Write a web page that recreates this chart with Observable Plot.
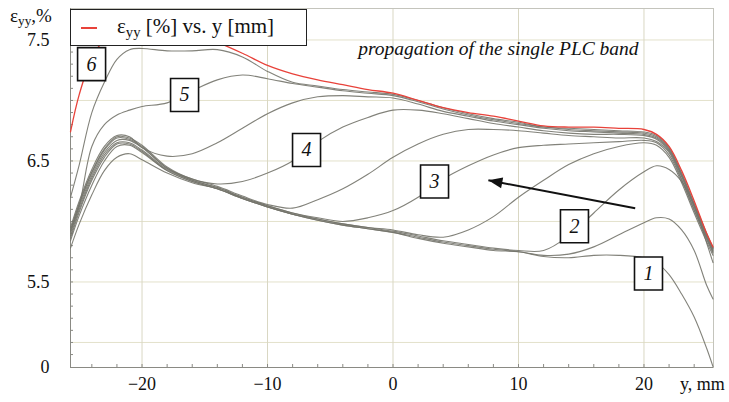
<!DOCTYPE html>
<html>
<head>
<meta charset="utf-8">
<script src="https://cdn.jsdelivr.net/npm/d3@7"></script>
<script src="https://cdn.jsdelivr.net/npm/@observablehq/plot@0.6"></script>
<style>
  body { margin: 0; background: #fff; }
  #chart { position: relative; width: 729px; height: 402px; font-family: "Liberation Serif", serif; color: #111; }
  #chart svg { position: absolute; left: 0; top: 0; }
  .ylabel { position: absolute; left: 10px; top: 5px; font-size: 19px; }
  .ylabel sub, .legend sub { font-size: 0.7em; vertical-align: -0.25em; }
  .xlabel { position: absolute; left: 680px; top: 374px; font-size: 18px; }
  .legend { position: absolute; left: 70px; top: 9px; width: 237px; height: 37px; box-sizing: border-box;
            border: 1.4px solid #222; background: #fff; font-size: 21px; }
  .legend .swatch { position: absolute; left: 10px; top: 17px; width: 16px; height: 1.6px; background: #e8423a; }
  .legend .txt { position: absolute; left: 46px; top: 4px; white-space: nowrap; }
</style>
</head>
<body>
<div id="chart">
  <div class="ylabel">ε<sub>yy</sub>,%</div>
  <div class="xlabel">y, mm</div>
</div>
<script>
// Position along the specimen, mm (shared by every profile)
const positionMm = [-25.7, -25, -24, -23, -22, -21, -20, -18, -16, -14, -12, -10, -8, -6, -4, -2, 0,
                    2, 4, 6, 8, 10, 12, 14, 16, 18, 20, 21, 22, 23, 24, 25, 25.5];

// Strain profiles εyy (%) at successive moments while the PLC band travels right to left
const profile1 = [5.78, 5.98, 6.22, 6.42, 6.53, 6.56, 6.51, 6.40, 6.32, 6.27, 6.19, 6.12, 6.06, 6.01, 5.97, 5.94, 5.91,
                  5.86, 5.82, 5.79, 5.76, 5.75, 5.71, 5.70, 5.72, 5.72, 5.70, 5.66, 5.56, 5.40, 5.21, 4.95, 4.80];
const profile1b = [5.84, 6.05, 6.30, 6.50, 6.62, 6.63, 6.57, 6.42, 6.33, 6.27, 6.19, 6.12, 6.06, 6.01, 5.97, 5.94, 5.91,
                   5.87, 5.83, 5.80, 5.77, 5.75, 5.72, 5.73, 5.79, 5.89, 5.99, 6.03, 6.02, 5.93, 5.76, 5.47, 5.36];
const profile2 = [5.86, 6.08, 6.34, 6.53, 6.64, 6.64, 6.58, 6.42, 6.33, 6.27, 6.19, 6.12, 6.06, 6.02, 5.98, 5.95, 5.92,
                  5.88, 5.84, 5.81, 5.78, 5.76, 5.76, 5.88, 6.07, 6.26, 6.41, 6.46, 6.43, 6.33, 6.13, 5.82, 5.66];
const profile2b = [5.88, 6.10, 6.36, 6.55, 6.65, 6.65, 6.59, 6.43, 6.34, 6.28, 6.20, 6.13, 6.07, 6.02, 5.98, 5.95, 5.93,
                   5.89, 5.87, 5.93, 6.04, 6.20, 6.34, 6.47, 6.56, 6.62, 6.65, 6.63, 6.53, 6.32, 6.07, 5.83, 5.72];
const profile3 = [5.90, 6.12, 6.38, 6.57, 6.67, 6.67, 6.61, 6.44, 6.34, 6.28, 6.20, 6.13, 6.07, 6.03, 6.00, 6.03, 6.09,
                  6.20, 6.35, 6.46, 6.55, 6.61, 6.63, 6.64, 6.65, 6.66, 6.67, 6.65, 6.55, 6.34, 6.09, 5.85, 5.74];
const profile3b = [5.92, 6.14, 6.40, 6.59, 6.69, 6.68, 6.62, 6.44, 6.35, 6.29, 6.21, 6.14, 6.11, 6.18, 6.27, 6.39, 6.53,
                   6.64, 6.72, 6.76, 6.76, 6.75, 6.73, 6.71, 6.70, 6.69, 6.69, 6.66, 6.57, 6.35, 6.10, 5.86, 5.75];
const profile4 = [5.93, 6.15, 6.41, 6.60, 6.70, 6.69, 6.63, 6.45, 6.35, 6.31, 6.33, 6.40, 6.50, 6.66, 6.78, 6.86, 6.92,
                  6.92, 6.89, 6.85, 6.81, 6.78, 6.75, 6.73, 6.72, 6.72, 6.71, 6.68, 6.58, 6.37, 6.12, 5.87, 5.76];
const profile4b = [5.95, 6.17, 6.43, 6.62, 6.71, 6.70, 6.61, 6.54, 6.56, 6.65, 6.77, 6.89, 6.98, 7.03, 7.04, 7.03, 7.02,
                   6.97, 6.91, 6.87, 6.83, 6.80, 6.77, 6.75, 6.74, 6.73, 6.72, 6.69, 6.59, 6.38, 6.13, 5.88, 5.77];
const profile5 = [5.92, 6.13, 6.62, 6.80, 6.88, 6.92, 6.95, 6.98, 7.08, 7.17, 7.21, 7.18, 7.14, 7.11, 7.08, 7.06, 7.04,
                  6.99, 6.93, 6.88, 6.84, 6.81, 6.78, 6.76, 6.75, 6.74, 6.73, 6.70, 6.60, 6.39, 6.14, 5.89, 5.78];
const profile6 = [6.20, 6.47, 6.90, 7.15, 7.34, 7.42, 7.43, 7.41, 7.41, 7.42, 7.36, 7.24, 7.15, 7.12, 7.09, 7.07, 7.05,
                  7.00, 6.94, 6.89, 6.85, 6.82, 6.78, 6.77, 6.76, 6.75, 6.74, 6.71, 6.61, 6.40, 6.15, 5.90, 5.78];
// Final profile, drawn in red
const profileFinal = [6.74, 7.05, 7.35, 7.50, 7.56, 7.58, 7.58, 7.57, 7.55, 7.48, 7.39, 7.29, 7.22, 7.17, 7.13, 7.09, 7.06,
                      7.00, 6.94, 6.90, 6.87, 6.83, 6.79, 6.78, 6.78, 6.77, 6.76, 6.72, 6.62, 6.42, 6.17, 5.90, 5.79];

const grayProfiles = [profile1, profile1b, profile2, profile2b, profile3, profile3b, profile4, profile4b, profile5, profile6];

// Axis ticks: the bottom of the (broken) strain axis is labelled 0
const yTicks = [4.793, 5.5, 6.5, 7.5];
const yTickLabels = ["0", "5.5", "6.5", "7.5"];
const yGrid = [5.0, 5.5, 6.0, 6.5, 7.0, 7.5];
const yMinor = [4.9, 5.0, 5.1, 5.2, 5.3, 5.4, 5.5, 5.6, 5.7, 5.8, 5.9, 6.0, 6.1, 6.2, 6.3, 6.4, 6.5, 6.6, 6.7, 6.8, 6.9, 7.0, 7.1, 7.2, 7.3, 7.4, 7.5, 7.6, 7.7];
const xTicks = [-20, -10, 0, 10, 20];
const xMinor = [-24, -22, -20, -18, -16, -14, -12, -10, -8, -6, -4, -2, 0, 2, 4, 6, 8, 10, 12, 14, 16, 18, 20, 22, 24];

// Numbered stage boxes and the direction arrow
const stageNames = ["1", "2", "3", "4", "5", "6"];
const stageBoxX = [20.36, 14.46, 3.31, -6.89, -16.61, -24.02];
const stageBoxY = [5.57, 5.96, 6.33, 6.59, 7.045, 7.30];
const arrowFrom = [19.3, 6.11];
const arrowTo = [7.6, 6.34];
const noteText = "propagation of the single PLC band";
const notePos = [8.4, 7.43];

// Frame geometry
const W = 729, H = 402, mL = 70, mR = 16, mT = 8, mB = 35;
const xDomain = [-25.7, 25.54];
const yDomain = [4.793, 7.76];

const grayRows = grayProfiles.flatMap((vals, k) => vals.map((v, i) => ({mm: positionMm[i], strain: v, stage: k})));
const redRows = profileFinal.map((v, i) => ({mm: positionMm[i], strain: v}));
const boxes = stageNames.map((name, i) => ({name, x: stageBoxX[i], y: stageBoxY[i]}));
const arrowRow = [{ x1: arrowFrom[0], y1: arrowFrom[1], x2: arrowTo[0], y2: arrowTo[1] }];

// Orientation of the arrowhead on screen (pixels per unit along each axis)
const kx = (W - mL - mR) / (xDomain[1] - xDomain[0]);
const ky = (H - mT - mB) / (yDomain[1] - yDomain[0]);
const headRotate = Math.atan2((arrowTo[0] - arrowFrom[0]) * kx, (arrowTo[1] - arrowFrom[1]) * ky) * 180 / Math.PI;

const boxSymbol = { draw(context) { context.rect(-14, -16.5, 28, 33); } };
// Filled arrowhead with its tip at the anchor point, pointing up before rotation
const headSymbol = { draw(context) { context.moveTo(0, 0); context.lineTo(-5.5, 14); context.lineTo(5.5, 14); context.closePath(); } };

const chart = Plot.plot({
  width: W,
  height: H,
  marginLeft: mL,
  marginRight: mR,
  marginTop: mT,
  marginBottom: mB,
  style: { fontFamily: "'Liberation Serif', serif", fontSize: "18px", color: "#111", background: "transparent" },
  x: { domain: xDomain },
  y: { domain: yDomain },
  marks: [
    Plot.gridY(yGrid, { stroke: "#e3e1cb", strokeOpacity: 1 }),
    Plot.gridX(xTicks, { stroke: "#d9d7c3", strokeOpacity: 1 }),
    Plot.frame({ stroke: "#c4c4bc" }),
    Plot.axisY(yMinor, { tickSize: -3, tickFormat: () => "", stroke: "#8a8a84", label: null }),
    Plot.axisX(xMinor, { tickSize: -3, tickFormat: () => "", stroke: "#8a8a84", label: null }),
    Plot.axisY(yTicks, { tickSize: 0, tickPadding: 21, tickFormat: d => yTickLabels[yTicks.indexOf(d)], fontSize: 18, label: null }),
    Plot.axisX(xTicks, { tickSize: 0, tickPadding: 10, fontSize: 18, label: null }),
    Plot.ruleX([xDomain[0]], { stroke: "#8a8a84" }),
    Plot.ruleY([yDomain[0]], { stroke: "#8a8a84" }),
    Plot.line(grayRows, { x: "mm", y: "strain", z: "stage", curve: "catmull-rom", stroke: "#74746c", strokeWidth: 1.1, strokeOpacity: 0.9 }),
    Plot.line(redRows, { x: "mm", y: "strain", curve: "catmull-rom", stroke: "#e8423a", strokeWidth: 1.3 }),
    Plot.link(arrowRow, { x1: "x1", y1: "y1", x2: "x2", y2: "y2", stroke: "#111", strokeWidth: 2 }),
    Plot.dot(arrowRow, { x: "x2", y: "y2", symbol: headSymbol, rotate: headRotate, fill: "#111", stroke: "none" }),
    Plot.text([noteText], { x: notePos[0], y: notePos[1], text: d => d, fontStyle: "italic", fontSize: 19.5, fill: "#111" }),
    Plot.dot(boxes, { x: "x", y: "y", symbol: boxSymbol, fill: "white", stroke: "#111", strokeWidth: 1.6 }),
    Plot.text(boxes, { x: "x", y: "y", text: "name", fontStyle: "italic", fontSize: 20, fill: "#111" })
  ]
});

const holder = document.getElementById("chart");
holder.insertBefore(chart, holder.firstChild);

const legend = document.createElement("div");
legend.className = "legend";
legend.innerHTML = '<div class="swatch"></div><div class="txt">ε<sub>yy</sub> [%] vs. y [mm]</div>';
holder.appendChild(legend);
</script>
</body>
</html>
